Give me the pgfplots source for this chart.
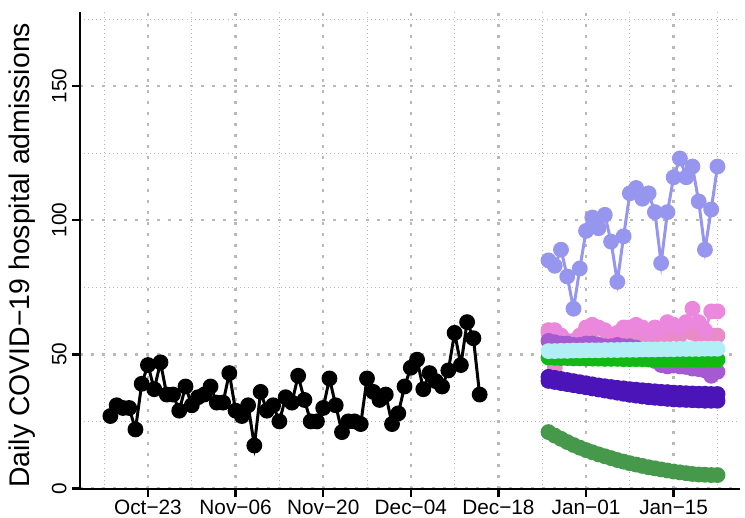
\documentclass[border=0pt]{standalone}
\usepackage{fontspec}
\setmainfont{Liberation Sans}
\usepackage{graphicx}
\usepackage{pgfplots}
\usepackage{pgfplotstable}
\pgfplotsset{compat=1.18}

\definecolor{cblue}{RGB}{150,150,238}
\definecolor{cpinka}{RGB}{235,135,220}
\definecolor{cpinkb}{RGB}{232,140,200}
\definecolor{cpurple}{RGB}{165,90,210}
\definecolor{ccyan}{RGB}{178,238,245}
\definecolor{cgreen}{RGB}{18,185,18}
\definecolor{cindigo}{RGB}{75,20,185}
\definecolor{cdgreen}{RGB}{70,152,75}
\definecolor{cgrid}{RGB}{185,185,185}

% observed daily admissions, day 0 = Oct-23
\pgfplotstableread{
d y
-6 27
-5 31
-4 30
-3 30
-2 22
-1 39
0 46
1 37
2 47
3 35
4 35
5 29
6 38
7 31
8 34
9 35
10 38
11 32
12 32
13 43
14 29
15 27
16 31
17 16
18 36
19 29
20 31
21 25
22 34
23 32
24 42
25 33
26 25
27 25
28 30
29 41
30 31
31 21
32 25
33 25
34 24
35 41
36 36
37 33
38 35
39 24
40 28
41 38
42 45
43 48
44 37
45 43
46 40
47 38
48 44
49 58
50 46
51 62
52 56
53 35
}\observed

% forecasts
\pgfplotstableread{
d blue pinka pinkb purple cyan green inda indb dgreen
64 85 58 59 55.0 51.2 48.8 41.6 40.1 21.0
65 83 59 45 54.5 51.2 48.7 41.2 39.7 19.7
66 89 57 52 54.0 51.3 48.6 40.8 39.3 18.5
67 79 55 54 54.0 51.3 48.6 40.4 38.9 17.3
68 67 53 55 53.5 51.4 48.5 40.0 38.5 16.2
69 82 56 57 53.5 51.4 48.5 39.6 38.1 15.2
70 96 60 56 54.0 51.5 48.4 39.2 37.7 14.3
71 101 61 55 54.0 51.5 48.4 38.8 37.3 13.5
72 97 60 53 53.5 51.5 48.4 38.4 36.9 12.7
73 102 59 54 53.0 51.6 48.3 38.1 36.5 12.0
74 92 57 55 53.0 51.6 48.3 37.8 36.1 11.3
75 77 58 56 53.5 51.6 48.3 37.5 35.7 10.6
76 94 60 58 53.0 51.7 48.2 37.3 35.3 10.0
77 110 60 57 53.0 51.7 48.2 37.0 34.9 9.4
78 112 61 56 52.5 51.7 48.2 36.8 34.6 8.9
79 108 60 58 51.5 51.8 48.2 36.6 34.3 8.4
80 110 58 57 49.5 51.8 48.1 36.4 34.0 7.9
81 103 60 55 47.5 51.8 48.1 36.2 33.8 7.5
82 84 59 56 46.0 51.9 48.1 36.0 33.6 7.1
83 103 62 57 45.5 51.9 48.1 35.9 33.4 6.7
84 116 61 58 45.8 51.9 48.0 35.7 33.2 6.3
85 123 60 57 45.5 52.0 48.0 35.6 33.1 6.0
86 116 62 59 45.3 52.0 48.0 35.5 33.0 5.7
87 120 67 58 44.7 52.0 48.0 35.4 32.9 5.4
88 107 62 57 44.5 52.0 48.0 35.3 32.8 5.2
89 89 59 58 44.0 52.1 48.0 35.3 32.7 5.1
90 104 66 57 42.0 52.1 48.0 35.2 32.7 5.0
91 120 66 57 43.5 52.1 48.0 35.2 32.7 5.0
}\forecast

\begin{document}
\begin{tikzpicture}
\path[use as bounding box] (-40pt,-14.5pt) rectangle (332.5pt,244.5pt);
\begin{axis}[
  scale only axis,
  width=330pt, height=238.5pt,
  xmin=-10.86, xmax=94.6,
  ymin=-0.2, ymax=177.6,
  axis x line=bottom, axis y line=left,
  axis line style={-, line width=1.2pt},
  tick align=outside,
  major tick length=4pt, minor tick length=0pt,
  tick style={line width=1.2pt, black},
  xtick={0,14,28,42,56,70,84},
  xticklabels={Oct−23,Nov−06,Nov−20,Dec−04,Dec−18,Jan−01,Jan−15},
  minor xtick={-7,7,21,35,49,63,77,91},
  ytick={0,50,100,150},
  yticklabels={\rotatebox{90}{0},\rotatebox{90}{50},\rotatebox{90}{100},\rotatebox{90}{150}},
  minor ytick={25,75,125,175},
  grid=both,
  major grid style={cgrid, line width=1.3pt, dash pattern=on 1.3pt off 4.2pt},
  minor grid style={cgrid, line width=0.45pt, dash pattern=on 0.45pt off 1.6pt},
  tick label style={font=\fontsize{10.4}{12}\selectfont},
  yticklabel style={anchor=east, inner xsep=2.5pt},
  xticklabel style={yshift=2pt},
  ylabel={Daily COVID−19 hospital admissions},
  every axis y label/.style={at={(axis description cs:-0.088,0.49)}, rotate=90, anchor=center,
    font=\fontsize{14.2}{17}\selectfont},
  every axis plot/.append style={line width=1.5pt, mark=*, mark size=3.2pt},
  clip=false,
]
\addplot[cpinkb, mark options={fill=cpinkb, draw=cpinkb}] table[x=d, y=pinkb] {\forecast};
\addplot[cpinka, mark options={fill=cpinka, draw=cpinka}] table[x=d, y=pinka] {\forecast};
\addplot[cpurple, mark options={fill=cpurple, draw=cpurple}] table[x=d, y=purple] {\forecast};
\addplot[cgreen, mark options={fill=cgreen, draw=cgreen}] table[x=d, y=green] {\forecast};
\addplot[ccyan, mark options={fill=ccyan, draw=ccyan}] table[x=d, y=cyan] {\forecast};
\addplot[cindigo, mark options={fill=cindigo, draw=cindigo}] table[x=d, y=inda] {\forecast};
\addplot[cindigo, mark options={fill=cindigo, draw=cindigo}] table[x=d, y=indb] {\forecast};
\addplot[cdgreen, mark options={fill=cdgreen, draw=cdgreen}] table[x=d, y=dgreen] {\forecast};
\addplot[cblue, mark options={fill=cblue, draw=cblue}] table[x=d, y=blue] {\forecast};
\addplot[black, mark options={fill=black, draw=black}] table[x=d, y=y] {\observed};
\end{axis}
\end{tikzpicture}
\end{document}
